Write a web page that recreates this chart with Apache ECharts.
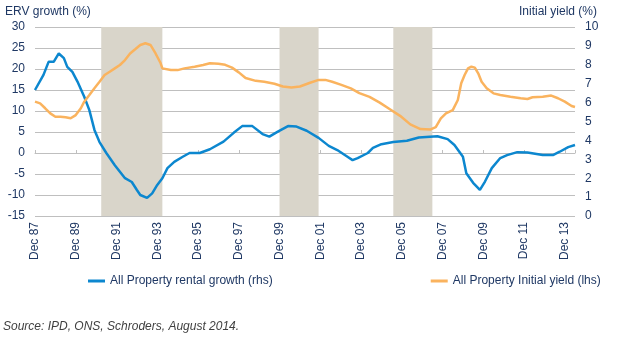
<!DOCTYPE html>
<html>
<head>
<meta charset="utf-8">
<script src="https://cdn.jsdelivr.net/npm/echarts@6/dist/echarts.min.js"></script>
<style>
html,body{margin:0;padding:0;background:#fff;}
#chart{width:632px;height:339px;}
</style>
</head>
<body>
<div id="chart"></div>
<script>
// ---- data ----
const tickLabels = ['Dec 87','Dec 89','Dec 91','Dec 93','Dec 95','Dec 97','Dec 99','Dec 01','Dec 03','Dec 05','Dec 07','Dec 09','Dec 11','Dec 13'];

// All Property rental (ERV) growth, % (left axis)
const growthDates = ['1987-12','1988-05','1988-08','1988-11','1989-02','1989-05','1989-07','1989-10','1990-01','1990-05','1990-08','1990-11','1991-02','1991-06','1991-11','1992-05','1992-09','1992-12','1993-02','1993-06','1993-09','1993-12','1994-03','1994-06','1994-10','1995-03','1995-07','1996-01','1996-07','1997-03','1997-09','1998-02','1998-08','1999-02','1999-06','1999-11','2000-05','2000-10','2001-04','2001-11','2002-05','2002-10','2003-04','2003-07','2003-10','2004-04','2004-07','2004-12','2005-07','2006-03','2006-10','2007-09','2008-03','2008-07','2008-12','2009-02','2009-06','2009-10','2010-01','2010-05','2010-10','2011-02','2011-08','2012-02','2012-11','2013-05','2013-09','2014-02','2014-06'];
const growthValues = [15,18.6,21.7,21.7,23.7,22.6,20.5,19.3,17,13.4,10.2,5.5,2.6,0,-2.9,-6,-6.9,-8.8,-10,-10.7,-9.6,-7.6,-6,-3.6,-2.1,-0.9,0,0,0.9,2.7,4.8,6.4,6.4,4.5,3.9,5.1,6.4,6.3,5.3,3.6,1.7,0.7,-0.9,-1.7,-1.2,0,1.2,2.1,2.6,2.9,3.7,4.0,3.3,1.9,-0.9,-4.8,-7.1,-8.8,-6.8,-3.6,-1.2,-0.5,0.2,0.1,-0.5,-0.5,0.3,1.4,1.9];

// All Property initial yield, % (right axis)
const yieldDates = ['1987-12','1988-03','1988-06','1988-09','1988-12','1989-03','1989-06','1989-09','1989-12','1990-03','1990-05','1990-08','1990-11','1991-02','1991-05','1991-08','1991-11','1992-02','1992-05','1992-08','1992-11','1993-02','1993-05','1993-08','1993-11','1994-02','1994-03','1994-08','1994-12','1995-04','1995-10','1996-03','1996-07','1996-12','1997-04','1997-08','1997-12','1998-04','1998-10','1999-03','1999-09','2000-02','2000-07','2000-12','2001-06','2001-11','2002-03','2002-07','2002-12','2003-06','2003-11','2004-05','2004-11','2005-05','2005-11','2006-05','2006-11','2007-05','2007-08','2007-11','2008-02','2008-06','2008-09','2008-11','2009-01','2009-03','2009-05','2009-07','2009-09','2009-11','2010-02','2010-06','2010-10','2011-04','2011-10','2012-02','2012-05','2012-11','2013-04','2013-08','2013-12','2014-04','2014-06'];
const yieldValues = [6.05,5.96,5.7,5.43,5.25,5.25,5.22,5.17,5.34,5.7,6.05,6.4,6.76,7.1,7.46,7.63,7.81,7.99,8.25,8.6,8.82,9.05,9.14,9.05,8.6,8.08,7.81,7.72,7.72,7.81,7.9,7.99,8.08,8.05,8.0,7.85,7.6,7.3,7.15,7.1,7.0,6.85,6.8,6.85,7.05,7.2,7.2,7.1,6.95,6.75,6.5,6.3,6.0,5.65,5.3,4.85,4.6,4.58,4.7,5.17,5.43,5.6,6.14,7.02,7.46,7.81,7.9,7.85,7.55,7.1,6.76,6.49,6.4,6.31,6.23,6.19,6.28,6.31,6.37,6.23,6.05,5.82,5.77];

// shaded periods
const bandStarts = ['1991-03','1999-12','2005-07'];
const bandEnds   = ['1994-03','2001-11','2007-06'];

const firstMonth = '1987-12';
const lastMonth = '2014-06';

// ---- helpers ----
function monthIndex(s){
  const p = s.split('-').map(Number);
  const b = firstMonth.split('-').map(Number);
  return (p[0]-b[0])*12 + (p[1]-b[1]);
}
function pairs(dates, vals){ return dates.map((d,i)=>[monthIndex(d), vals[i]]); }

const NAVY = '#1F3864';
const GRID = '#BFBFBF';
const FONT = 'Liberation Sans, Arial, sans-serif';
const xMax = monthIndex(lastMonth);

const chart = echarts.init(document.getElementById('chart'), null, {renderer:'canvas'});
chart.setOption({
  animation:false,
  textStyle:{fontFamily:FONT},
  title:[
    {text:'ERV growth (%)', left:5, top:6, padding:0, textStyle:{fontSize:12, fontWeight:'normal', color:NAVY, fontFamily:FONT}},
    {text:'Initial yield (%)', right:35, top:6, padding:0, textStyle:{fontSize:12, fontWeight:'normal', color:NAVY, fontFamily:FONT}}
  ],
  grid:{left:35, right:57, top:27, bottom:123, containLabel:false},
  legend:{
    left:88, top:275, padding:0, itemGap:158, itemWidth:17, itemHeight:3, icon:'rect',
    data:['All Property rental growth (rhs)','All Property Initial yield (lhs)'],
    textStyle:{fontSize:12, color:NAVY, fontFamily:FONT}
  },
  xAxis:[
    {type:'value', min:0, max:xMax, interval:24, position:'bottom',
     axisLine:{show:false, onZero:false}, axisTick:{show:false}, splitLine:{show:false},
     axisLabel:{rotate:90, margin:6, fontSize:12, color:NAVY, fontFamily:FONT,
       showMaxLabel:false,
       formatter:function(v){ return (v%24===0 && tickLabels[v/24]) ? tickLabels[v/24] : ''; }}},
    {type:'value', min:0, max:xMax, interval:24, position:'bottom',
     axisLine:{show:true, onZero:true, onZeroAxisIndex:0, lineStyle:{color:GRID, width:1}},
     axisTick:{show:true, inside:true, length:3, lineStyle:{color:GRID}},
     axisLabel:{show:false}, splitLine:{show:false}}
  ],
  yAxis:[
    {type:'value', min:-15, max:30, interval:5, position:'left',
     axisLine:{show:false}, axisTick:{show:false},
     splitLine:{show:true, lineStyle:{color:GRID, width:1}},
     axisLabel:{fontSize:12, color:NAVY, margin:10, fontFamily:FONT}},
    {type:'value', min:0, max:10, interval:1, position:'right',
     axisLine:{show:false}, axisTick:{show:false}, splitLine:{show:false},
     axisLabel:{fontSize:12, color:NAVY, margin:10, fontFamily:FONT}}
  ],
  series:[
    {type:'line', name:'bands', data:[], xAxisIndex:0, yAxisIndex:0, z:1, silent:true,
     markArea:{silent:true, itemStyle:{color:'#D9D5CA'},
       data: bandStarts.map((s,i)=>[{xAxis:monthIndex(s)},{xAxis:monthIndex(bandEnds[i])}])}},
    {type:'line', name:'All Property rental growth (rhs)', data:pairs(growthDates, growthValues),
     xAxisIndex:0, yAxisIndex:0, showSymbol:false, symbol:'none', smooth:false, z:3,
     lineStyle:{color:'#0C87CF', width:2.5}, itemStyle:{color:'#0C87CF'}},
    {type:'line', name:'All Property Initial yield (lhs)', data:pairs(yieldDates, yieldValues),
     xAxisIndex:0, yAxisIndex:1, showSymbol:false, symbol:'none', smooth:false, z:4,
     lineStyle:{color:'#FAB35E', width:2.5}, itemStyle:{color:'#FAB35E'}}
  ],
  graphic:[
    {type:'text', left:3, top:321,
     style:{text:'Source: IPD, ONS, Schroders, August 2014.', fill:'#404040',
            font:'italic 12px Liberation Sans, Arial, sans-serif'}}
  ]
});
</script>
</body>
</html>
